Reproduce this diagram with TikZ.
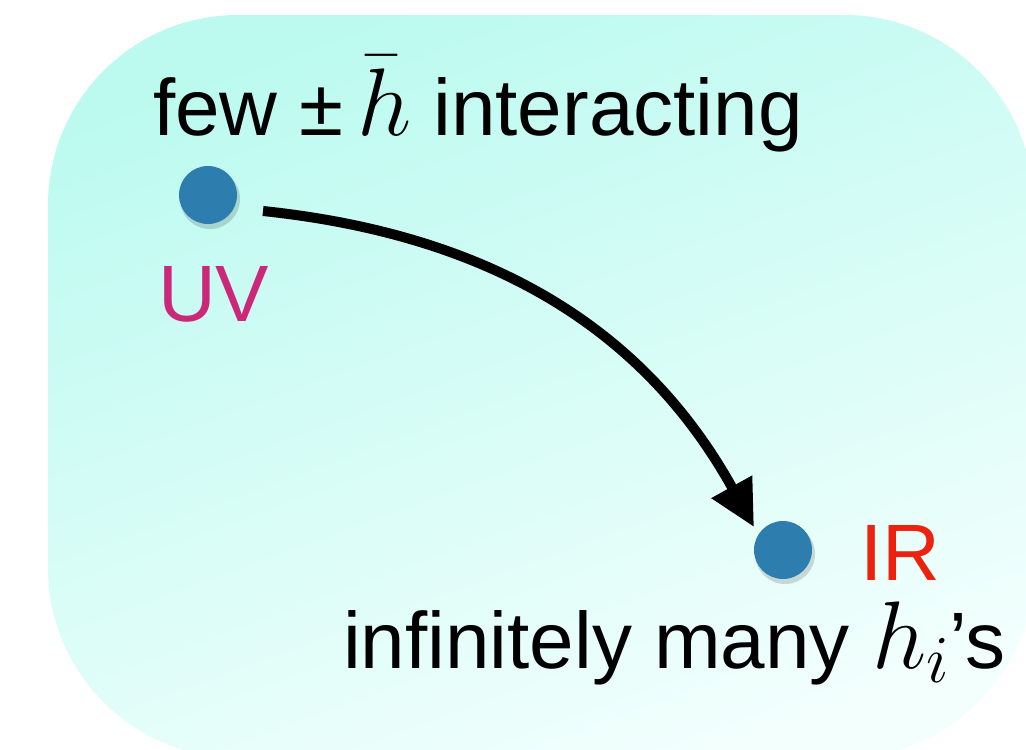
\documentclass[tikz,border=0pt]{standalone}
\usepackage{fix-cm}
\usepackage{fontspec}
\setmainfont{Liberation Sans}
\usetikzlibrary{arrows.meta}
\definecolor{bgA}{RGB}{188,250,240}
\definecolor{bgB}{RGB}{242,255,253}
\definecolor{dotblue}{RGB}{46,125,175}
\definecolor{uvcol}{RGB}{204,40,122}
\definecolor{ircol}{RGB}{236,34,14}
\newcommand{\bigmath}[1]{{\fontsize{96}{100}\selectfont$#1$}}
\tikzset{
  lbl/.style={inner sep=0pt, anchor=base west, font=\fontsize{80}{96}\selectfont},
  fixedpt/.style={circle, fill=dotblue, minimum size=58pt, inner sep=0pt},
  dotshadow/.style={circle, fill=black, opacity=0.15, minimum size=60pt, inner sep=0pt},
  flow/.style={line width=10pt, -{Triangle[length=46pt,width=44pt]}}
}
\begin{document}
\begin{tikzpicture}[x=1pt,y=-1pt]
\useasboundingbox (0,0) rectangle (1026,750);
\shade[top color=bgA, bottom color=bgB, shading angle=20, rounded corners=190pt]
  (48,15) rectangle (1034,758);
% titles
\node[lbl] (top) at (153,135) {few ±\,\bigmath{\bar{h}} interacting};
\node[lbl] (bot) at (343,668) {infinitely many \bigmath{h_i}’s};
% dots
\node[dotshadow] at (210,199) {};
\node[fixedpt] (uv) at (208,195) {};
\node[dotshadow] at (785,554) {};
\node[fixedpt] (ir) at (783,550) {};
% labels
\node[lbl, text=uvcol] (uvl) at (158,321) {UV};
\node[lbl, text=ircol] (irl) at (860,580) {IR};
% arrow
\coordinate (s) at (263,211);
\coordinate (e) at (754,527);
\draw[flow] (s) to[out=-6,in=119] (e);
\end{tikzpicture}
\end{document}
